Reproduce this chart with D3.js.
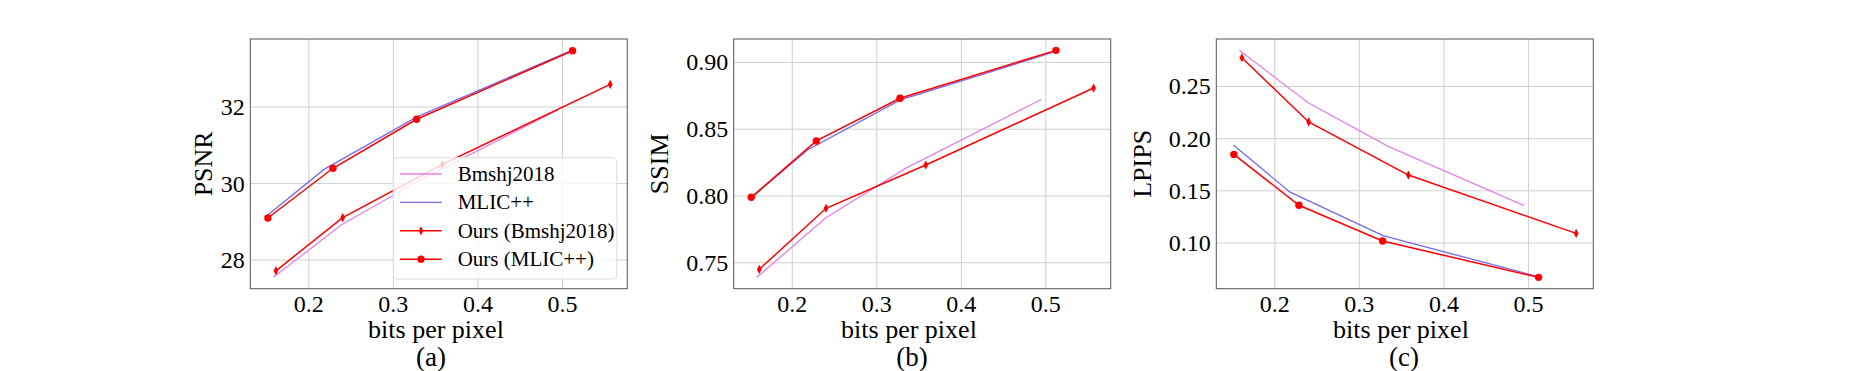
<!DOCTYPE html>
<html>
<head>
<meta charset="utf-8">
<script src="https://cdn.jsdelivr.net/npm/d3@7"></script>
<style>
	body { margin: 0; background: #fff; }
</style>
</head>
<body>
<svg width="1852" height="371"></svg>
<script>
//bits per pixel for each method
var bppBmshj = [0.158, 0.239, 0.334, 0.495];
var bppMlic = [0.151, 0.218, 0.328, 0.511];
var bppOursBmshj = [0.161, 0.240, 0.358, 0.5565];
var bppOursMlic = [0.1515, 0.2285, 0.3275, 0.512];

//PSNR values
var psnrBmshj = [27.55, 28.93, 30.12, 31.93];
var psnrMlic = [29.17, 30.37, 31.74, 33.48];
var psnrOursBmshj = [27.72, 29.11, 30.50, 32.59];
var psnrOursMlic = [29.10, 30.40, 31.68, 33.47];

//SSIM values
var ssimBmshj = [0.7391, 0.7833, 0.8207, 0.8724];
var ssimMlic = [0.7983, 0.8344, 0.8719, 0.9080];
var ssimOursBmshj = [0.7451, 0.7908, 0.8232, 0.8808];
var ssimOursMlic = [0.7990, 0.8412, 0.8731, 0.9090];

//LPIPS values
var lpipsBmshj = [0.2846, 0.2346, 0.1926, 0.1359];
var lpipsMlic = [0.1938, 0.1487, 0.1070, 0.0679];
var lpipsOursBmshj = [0.2775, 0.2160, 0.1651, 0.1092];
var lpipsOursMlic = [0.1849, 0.1362, 0.1019, 0.0671];

//legend names and ticks
var seriesNames = ["Bmshj2018", "MLIC++", "Ours (Bmshj2018)", "Ours (MLIC++)"];
var xTicks = [0.2, 0.3, 0.4, 0.5];
var psnrTicks = [28, 30, 32];
var ssimTicks = [0.75, 0.80, 0.85, 0.90];
var lpipsTicks = [0.10, 0.15, 0.20, 0.25];
var metricNames = ["PSNR", "SSIM", "LPIPS"];
var captions = ["(a)", "(b)", "(c)"];

var serif = "'Liberation Serif', 'Times New Roman', Times, serif";

var svg = d3.select("svg")
	.style("font-family", serif);

var colors = ["#e382e8", "#776ae8", "#ff0000", "#ff0000"];
var widths = [1.3, 1.3, 1.5, 1.5];
var markers = [null, null, "diamond", "circle"];

var bpps = [bppBmshj, bppMlic, bppOursBmshj, bppOursMlic];
var panels = [
	{ vals: [psnrBmshj, psnrMlic, psnrOursBmshj, psnrOursMlic], ticks: psnrTicks, fmt: d3.format("d") },
	{ vals: [ssimBmshj, ssimMlic, ssimOursBmshj, ssimOursMlic], ticks: ssimTicks, fmt: d3.format(".2f") },
	{ vals: [lpipsBmshj, lpipsMlic, lpipsOursBmshj, lpipsOursMlic], ticks: lpipsTicks, fmt: d3.format(".2f") }
];

//panel frame positions (window.top is taken, so plotTop)
var lefts = [250.3, 733.7, 1216.3],
	plotTop = 39,
	pw = 377,
	ph = 249.7;
var ylabelX = [212.3, 668.3, 1151];
var xlabelCx = [436, 909, 1401];
var captionCx = [431, 912, 1404];

//matplotlib style 5% margins
function padded(arr) {
	var ext = d3.extent(arr), m = (ext[1] - ext[0]) * 0.05;
	return [ext[0] - m, ext[1] + m];
}

var allBpp = d3.merge(bpps);

panels.forEach(function (p, i) {
	var x = d3.scaleLinear().domain(padded(allBpp)).range([lefts[i], lefts[i] + pw]);
	var y = d3.scaleLinear().domain(padded(d3.merge(p.vals))).range([plotTop + ph, plotTop]);

	var g = svg.append("g");

	//grid
	g.selectAll(".vgrid").data(xTicks).enter().append("line")
		.attr("x1", function (d) { return x(d); })
		.attr("x2", function (d) { return x(d); })
		.attr("y1", plotTop).attr("y2", plotTop + ph)
		.style("stroke", "#d0d0d0").style("stroke-width", 1);
	g.selectAll(".hgrid").data(p.ticks).enter().append("line")
		.attr("y1", function (d) { return y(d); })
		.attr("y2", function (d) { return y(d); })
		.attr("x1", lefts[i]).attr("x2", lefts[i] + pw)
		.style("stroke", "#d0d0d0").style("stroke-width", 1);

	//tick labels
	g.selectAll(".xt").data(xTicks).enter().append("text")
		.attr("x", function (d) { return x(d); })
		.attr("y", plotTop + ph + 23)
		.attr("text-anchor", "middle")
		.attr("font-family", serif)
		.style("font-size", "24px")
		.text(function (d) { return d3.format(".1f")(d); });
	g.selectAll(".yt").data(p.ticks).enter().append("text")
		.attr("x", lefts[i] - 5.5)
		.attr("y", function (d) { return y(d) + 8; })
		.attr("text-anchor", "end")
		.attr("font-family", serif)
		.style("font-size", "24px")
		.text(p.fmt);

	//lines
	var line = d3.line();
	p.vals.forEach(function (v, s) {
		var pts = v.map(function (val, k) { return [x(bpps[s][k]), y(val)]; });
		g.append("path")
			.attr("d", line(pts))
			.style("fill", "none")
			.style("stroke", colors[s])
			.style("stroke-width", widths[s]);

		if (markers[s] == "circle") {
			g.selectAll(null).data(pts).enter().append("circle")
				.attr("cx", function (d) { return d[0]; })
				.attr("cy", function (d) { return d[1]; })
				.attr("r", 3.7)
				.style("fill", colors[s]);
		} else if (markers[s] == "diamond") {
			g.selectAll(null).data(pts).enter().append("path")
				.attr("d", function (d) {
					return "M" + d[0] + "," + (d[1] - 4.6) + "L" + (d[0] + 2.4) + "," + d[1] +
						"L" + d[0] + "," + (d[1] + 4.6) + "L" + (d[0] - 2.4) + "," + d[1] + "Z";
				})
				.style("fill", colors[s]);
		}
	});

	//frame
	g.append("rect")
		.attr("x", lefts[i]).attr("y", plotTop)
		.attr("width", pw).attr("height", ph)
		.style("fill", "none").style("stroke", "#555").style("stroke-width", 1);

	//axis labels
	g.append("text")
		.attr("x", xlabelCx[i]).attr("y", 337.7)
		.attr("text-anchor", "middle")
		.attr("font-family", serif)
		.style("font-size", "26px")
		.text("bits per pixel");
	g.append("text")
		.attr("transform", "translate(" + ylabelX[i] + "," + (plotTop + ph / 2) + ") rotate(-90)")
		.attr("text-anchor", "middle")
		.attr("font-family", serif)
		.style("font-size", "26px")
		.text(metricNames[i]);
	g.append("text")
		.attr("x", captionCx[i]).attr("y", 366)
		.attr("text-anchor", "middle")
		.attr("font-family", serif)
		.style("font-size", "27px")
		.text(captions[i]);

	//legend only in the first panel
	if (i == 0) {
		var lx = lefts[i] + 143, ly = plotTop + 118.7;
		var lg = g.append("g").attr("transform", "translate(" + lx + "," + ly + ")");
		lg.append("rect")
			.attr("width", 223.5).attr("height", 121.3)
			.attr("rx", 4)
			.style("fill", "#fff").style("fill-opacity", 0.8)
			.style("stroke", "#dcdcdc").style("stroke-width", 1);
		seriesNames.forEach(function (name, s) {
			var cy = 16.3 + s * 28.4;
			lg.append("line")
				.attr("x1", 6.7).attr("x2", 48.4)
				.attr("y1", cy).attr("y2", cy)
				.style("stroke", colors[s]).style("stroke-width", widths[s]);
			if (markers[s] == "circle") {
				lg.append("circle").attr("cx", 27.7).attr("cy", cy).attr("r", 3.7).style("fill", colors[s]);
			} else if (markers[s] == "diamond") {
				lg.append("path")
					.attr("d", "M27.7," + (cy - 4.6) + "L30.1," + cy + "L27.7," + (cy + 4.6) + "L25.3," + cy + "Z")
					.style("fill", colors[s]);
			}
			lg.append("text")
				.attr("x", 64.4).attr("y", cy + 7)
				.attr("font-family", serif)
				.style("font-size", "21px")
				.text(name);
		});
	}
});
</script>
</body>
</html>
